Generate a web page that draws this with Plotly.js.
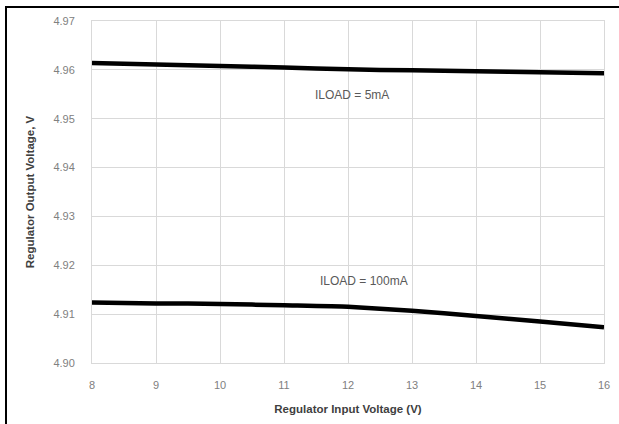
<!DOCTYPE html>
<html>
<head>
<meta charset="utf-8">
<script src="https://cdn.plot.ly/plotly-3.0.1.min.js"></script>
<style>
html,body{margin:0;padding:0;background:#fff;}
#wrap{position:relative;width:619px;height:424px;}
#chart{width:619px;height:424px;}
#frame{position:absolute;left:5px;top:6px;width:614px;height:418px;border-left:2px solid #000;border-top:2px solid #000;pointer-events:none;box-sizing:border-box;}
</style>
</head>
<body>
<div id="wrap"><div id="chart"></div><div id="frame"></div></div>
<script>
const inputVoltage = [8, 9, 10, 11, 12, 13, 14, 15, 16];
const out5mA   = [4.9614, 4.9611, 4.9608, 4.9605, 4.9601, 4.9599, 4.9597, 4.9595, 4.9593];
const out100mA = [4.9124, 4.9122, 4.9121, 4.9118, 4.9115, 4.9107, 4.9096, 4.9085, 4.9073];
const xTicks = [8, 9, 10, 11, 12, 13, 14, 15, 16];
const yTicks = [4.90, 4.91, 4.92, 4.93, 4.94, 4.95, 4.96, 4.97];
const yTickText = ["4.90", "4.91", "4.92", "4.93", "4.94", "4.95", "4.96", "4.97"];
const labels = [
  {text: "ILOAD = 5mA", x: 12.06, y: 4.9549},
  {text: "ILOAD = 100mA", x: 12.25, y: 4.9167}
];

const lineStyle = {color: "#000000", width: 4.5, shape: "spline", smoothing: 0.5};
const traces = [
  {x: inputVoltage, y: out5mA, mode: "lines", line: lineStyle, name: "5mA", hoverinfo: "skip"},
  {x: inputVoltage, y: out100mA, mode: "lines", line: lineStyle, name: "100mA", hoverinfo: "skip"}
];

const tickFont = {family: "Liberation Sans, Arial, sans-serif", size: 11, color: "#808080"};
const titleFont = {family: "Liberation Sans, Arial, sans-serif", size: 11.5, color: "#404040", weight: "bold"};

const layout = {
  width: 619, height: 424,
  margin: {l: 92, r: 15, t: 21, b: 61, pad: 0},
  paper_bgcolor: "#ffffff", plot_bgcolor: "#ffffff",
  showlegend: false,
  xaxis: {
    range: [8, 16], tickvals: xTicks, ticktext: xTicks.map(String),
    showgrid: true, gridcolor: "#d9d9d9", gridwidth: 1,
    showline: true, linecolor: "#d9d9d9", linewidth: 1, mirror: true,
    zeroline: false, ticks: "outside", ticklen: 12, tickcolor: "rgba(0,0,0,0)", tickfont: tickFont,
    automargin: false,
    title: {text: "<b>Regulator Input Voltage (V)</b>", font: titleFont, standoff: 14}
  },
  yaxis: {
    range: [4.90, 4.97], tickvals: yTicks, ticktext: yTickText,
    showgrid: true, gridcolor: "#d9d9d9", gridwidth: 1,
    showline: true, linecolor: "#d9d9d9", linewidth: 1, mirror: true,
    zeroline: false, ticks: "outside", ticklen: 14, tickcolor: "rgba(0,0,0,0)", tickfont: tickFont,
    automargin: false,
    title: {text: "<b>Regulator Output Voltage, V</b>", font: titleFont, standoff: 16}
  },
  annotations: labels.map(l => ({
    text: l.text, x: l.x, y: l.y, xref: "x", yref: "y",
    showarrow: false, font: {family: "Liberation Sans, Arial, sans-serif", size: 12, color: "#595959"}
  }))
};

Plotly.newPlot("chart", traces, layout, {displayModeBar: false, staticPlot: true});
</script>
</body>
</html>
